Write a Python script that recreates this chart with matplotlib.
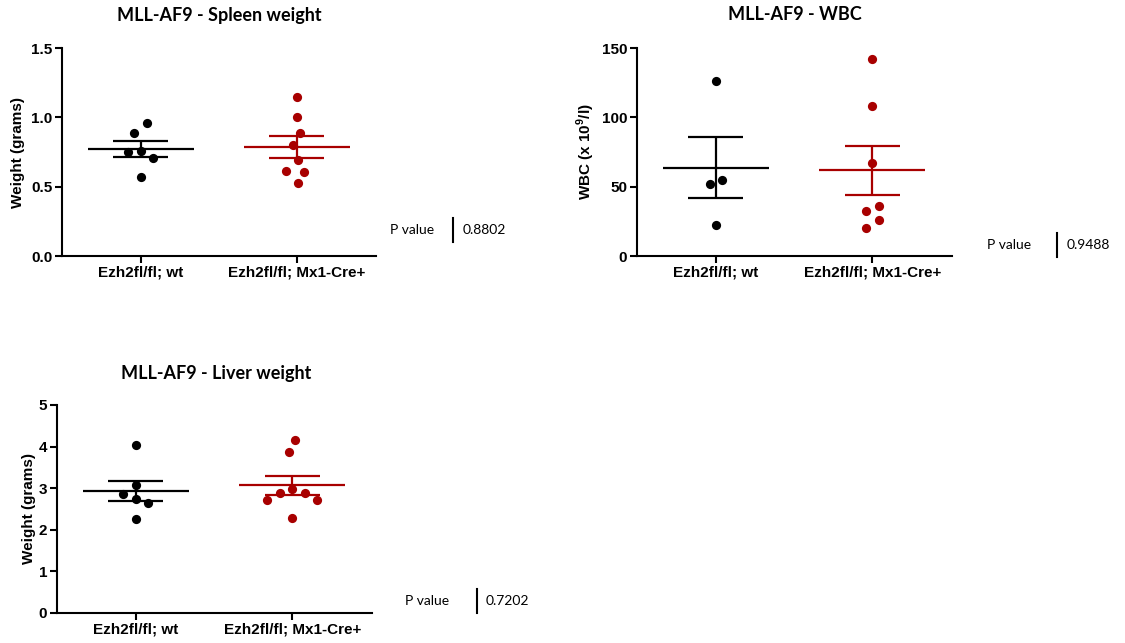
import numpy as np
import matplotlib
matplotlib.use('Agg')
import matplotlib.pyplot as plt
from matplotlib.lines import Line2D

plt.rcParams['mathtext.fontset'] = 'custom'
plt.rcParams['mathtext.rm'] = 'Liberation Sans'
plt.rcParams['mathtext.bf'] = 'Liberation Sans:bold'

# data
groups = ['Ezh2fl/fl; wt', 'Ezh2fl/fl; Mx1-Cre+']

spleen_wt = [0.889, 0.958, 0.707, 0.752, 0.760, 0.568]
spleen_ko = [1.148, 1.006, 0.800, 0.889, 0.693, 0.616, 0.609, 0.530]

wbc_wt = [126.0, 54.6, 51.9, 22.4]
wbc_ko = [142.3, 108.2, 67.1, 36.1, 32.7, 20.2, 25.7]

liver_wt = [4.05, 3.07, 2.85, 2.74, 2.64, 2.27]
liver_ko = [4.17, 3.88, 2.99, 2.89, 2.89, 2.72, 2.72, 2.28]

titles = ['MLL-AF9 - Spleen weight', 'MLL-AF9 - WBC', 'MLL-AF9 - Liver weight']
ylabels = ['Weight (grams)', r'WBC (x 10$^{\mathbf{9}}$/l)', 'Weight (grams)']
yticks = [[0.0, 0.5, 1.0, 1.5], [0, 50, 100, 150], [0, 1, 2, 3, 4, 5]]
ytick_fmt = ['{:.1f}', '{:.0f}', '{:.0f}']
pvalues = ['0.8802', '0.9488', '0.7202']

colors = ['#000000', '#a80000']

W, H = 1125, 643
fig = plt.figure(figsize=(W / 100, H / 100), dpi=100)


def px(x, y):
    return x / W, 1 - y / H


def swarm(vals, ppy, ppx, gap=12.5, step=6.25):
    # beeswarm in pixel space, then each clump of points is centred
    vals = np.asarray(vals)
    ys = vals * ppy
    xs = np.zeros(len(vals))
    done = []
    cands = [0.0] + [s * m * step for m in range(1, 12) for s in (-1, 1)]
    for k in np.argsort(-vals, kind='stable'):
        for c in cands:
            if all((c - xs[j]) ** 2 + (ys[k] - ys[j]) ** 2 >= gap ** 2 for j in done):
                break
        xs[k] = c
        done.append(k)
    order = np.argsort(-ys, kind='stable')
    clump = [order[0]]
    for k in list(order[1:]) + [None]:
        if k is not None and ys[clump[-1]] - ys[k] < gap:
            clump.append(k)
            continue
        xs[clump] -= xs[clump].mean()
        clump = [k]
    return xs / ppx


# axes boxes in pixels: left, top, right, bottom
boxes = [(62, 48, 376, 256), (637, 48, 952, 256), (57, 405, 372, 613)]
data = [(spleen_wt, spleen_ko), (wbc_wt, wbc_ko), (liver_wt, liver_ko)]
title_pos = [(219, 15), (795, 15), (216, 374)]
ylab_x = [25, 597, 36]
pv_pos = [(390, 230, 453, 463), (987, 245, 1057, 1067), (405, 601, 477, 486)]

xlim = (-0.505, 1.51)

for i in range(3):
    l, t, r, b = boxes[i]
    x0, y0 = px(l, b)
    ax = fig.add_axes([x0, y0, (r - l) / W, (b - t) / H])
    ymax = yticks[i][-1]
    ax.set_xlim(*xlim)
    ax.set_ylim(0, ymax)
    ppx = (r - l) / (xlim[1] - xlim[0])
    ppy = (b - t) / ymax

    for g, vals in enumerate(data[i]):
        v = np.asarray(vals)
        m = v.mean()
        sem = v.std(ddof=1) / np.sqrt(len(v))
        offs = swarm(v, ppy, ppx)
        ax.scatter(g + offs, v, s=44, color=colors[g], zorder=3, clip_on=False, linewidths=0)
        ax.hlines(m, g - 0.34, g + 0.34, color=colors[g], lw=1.6, zorder=2)
        ax.hlines([m - sem, m + sem], g - 0.176, g + 0.176, color=colors[g], lw=1.6, zorder=2)
        ax.vlines(g, m - sem, m + sem, color=colors[g], lw=1.6, zorder=2)

    for s in ['top', 'right']:
        ax.spines[s].set_visible(False)
    for s in ['left', 'bottom']:
        ax.spines[s].set_linewidth(1.5)
    ax.tick_params(width=1.5, length=5, pad=2)
    ax.set_xticks([0, 1])
    ax.set_xticklabels(groups, fontsize=11, fontweight='bold', family='Liberation Sans')
    ax.set_yticks(yticks[i])
    ax.set_yticklabels([ytick_fmt[i].format(v) for v in yticks[i]], fontsize=11,
                       fontweight='bold', family='Liberation Sans')
    ax.set_ylabel(ylabels[i], fontsize=11, fontweight='bold', family='Liberation Sans')
    ax.yaxis.set_label_coords((ylab_x[i] - l) / (r - l), 0.5)

    fig.text(*px(*title_pos[i]), titles[i], ha='center', va='center', fontsize=13,
             fontweight='bold', family='Lato')

    tx, ty, bx, vx = pv_pos[i]
    fig.text(*px(tx, ty), 'P value', ha='left', va='center', fontsize=10, family='Lato')
    fig.add_artist(Line2D([bx / W, bx / W], [1 - (ty - 12) / H, 1 - (ty + 12) / H],
                          color='black', lw=1.5))
    fig.text(*px(vx, ty), pvalues[i], ha='left', va='center', fontsize=10, family='Lato')

fig.savefig('out.png', dpi=100)
